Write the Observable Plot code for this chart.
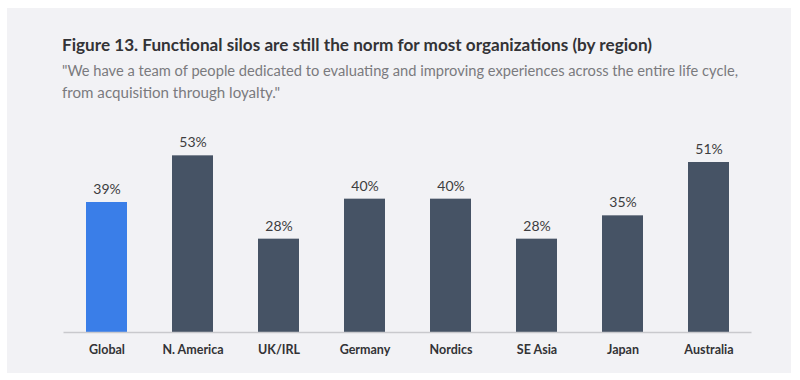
<!DOCTYPE html>
<html>
<head>
<meta charset="utf-8">
<script src="https://cdn.jsdelivr.net/npm/d3@7"></script>
<script src="https://cdn.jsdelivr.net/npm/@observablehq/plot@0.6"></script>
<style>
  html, body { margin: 0; padding: 0; background: #ffffff; width: 800px; height: 380px; overflow: hidden; }
  #panel { position: absolute; left: 7px; top: 8px; width: 784px; height: 365px; background: #f2f2f5; }
  .fit { position: absolute; left: 55px; white-space: nowrap; transform-origin: 0 50%; font-family: Lato, "Open Sans", sans-serif; }
  #title { top: 26px; font-size: 17px; font-weight: 700; color: #333336; }
  #sub1 { top: 54px; font-size: 14.5px; color: #7a7a7e; }
  #sub2 { top: 76px; font-size: 14.5px; color: #7a7a7e; }
  #chart { position: absolute; left: 0; top: 102px; }
</style>
</head>
<body>
<div id="panel">
  <div id="title" class="fit" data-w="590">Figure 13. Functional silos are still the norm for most organizations (by region)</div>
  <div id="sub1" class="fit" data-w="676">"We have a team of people dedicated to evaluating and improving experiences across the entire life cycle,</div>
  <div id="sub2" class="fit" data-w="218">from acquisition through loyalty."</div>
  <div id="chart"></div>
</div>
<script>
const regions = ["Global", "N. America", "UK/IRL", "Germany", "Nordics", "SE Asia", "Japan", "Australia"];
const values = [39, 53, 28, 40, 40, 28, 35, 51];
const highlight = ["Global"];

const data = regions.map((r, i) => ({region: r, value: values[i], hi: highlight.includes(r)}));

// condense text to match the reference's narrow typeface
document.querySelectorAll(".fit").forEach(el => {
  const w = el.getBoundingClientRect().width;
  const target = +el.dataset.w;
  el.style.transform = `scaleX(${target / w})`;
});

const chart = Plot.plot({
  width: 784,
  height: 263,
  marginLeft: 56.5,
  marginRight: 39.5,
  marginTop: 22,
  marginBottom: 41,
  style: { background: "transparent", fontFamily: "Lato, 'Open Sans', sans-serif" },
  x: { domain: regions, paddingInner: 0.52, paddingOuter: 0.26, label: null, tickSize: 0, tickPadding: 13 },
  y: { domain: [0, 60], axis: null },
  marks: [
    Plot.barY(data, { x: "region", y: "value", fill: d => d.hi ? "#3a7ee8" : "#465365" }),
    Plot.ruleY([0], { stroke: "#c9c9cd", strokeWidth: 1.5 }),
    Plot.text(data, { x: "region", y: "value", text: d => d.value + "%", dy: -13, fontSize: 14, fill: "#3d3d40" }),
    Plot.axisX({ tickSize: 0, tickPadding: 13, fontSize: 12.5, fontWeight: "bold", fill: "#333336", label: null })
  ]
});
document.getElementById("chart").appendChild(chart);
</script>
</body>
</html>
